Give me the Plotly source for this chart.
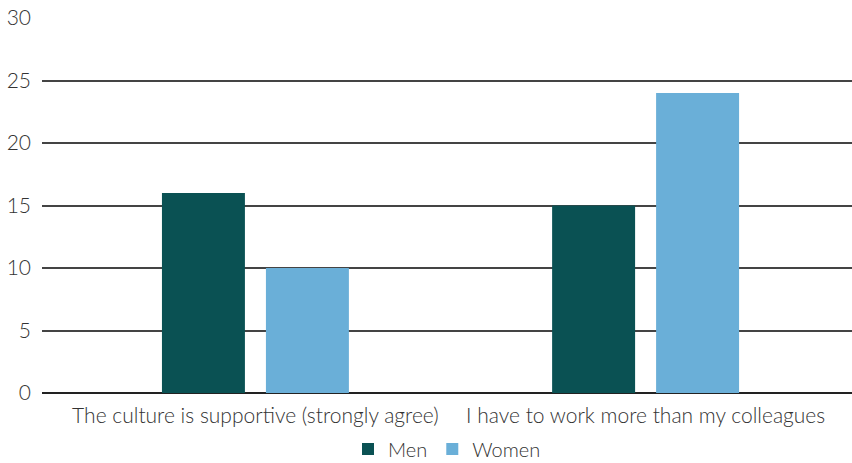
import plotly.graph_objects as go

categories = ["The culture is supportive (strongly agree)", "I have to work more than my colleagues"]
men = [16, 15]
women = [10, 24]
y_ticks = [0, 5, 10, 15, 20, 25, 30]

MEN_COLOR = "#0a5153"
WOMEN_COLOR = "#6aafd8"
TEXT_COLOR = "#333333"
FONT = "Lato, 'Open Sans', sans-serif"

fig = go.Figure()
fig.add_trace(go.Bar(name="Men", x=categories, y=men, marker=dict(color=MEN_COLOR, line=dict(width=0))))
fig.add_trace(go.Bar(name="Women", x=categories, y=women, marker=dict(color=WOMEN_COLOR, line=dict(width=0))))

fig.update_layout(
    width=852,
    height=463,
    margin=dict(l=42, r=0, t=18, b=70),
    paper_bgcolor="white",
    plot_bgcolor="white",
    barmode="group",
    bargap=0.467,
    bargroupgap=0.202,
    font=dict(family=FONT, size=20, color=TEXT_COLOR, weight=300),
    showlegend=True,
    legend=dict(
        orientation="h",
        x=0.5,
        xanchor="center",
        yref="container",
        y=0.03,
        yanchor="middle",
        font=dict(family=FONT, size=20, color=TEXT_COLOR, weight=300),
        itemwidth=30,
        traceorder="normal",
    ),
    xaxis=dict(
        range=[-0.547, 1.529],
        showgrid=False,
        showline=False,
        ticks="",
        ticklabelstandoff=8,
        tickfont=dict(family=FONT, size=21, color=TEXT_COLOR, weight=300),
        zeroline=False,
    ),
    yaxis=dict(
        range=[0, 30],
        tickvals=y_ticks,
        showgrid=True,
        gridcolor="#444444",
        gridwidth=1.5,
        zeroline=True,
        zerolinecolor="#222222",
        zerolinewidth=2,
        showline=False,
        ticks="",
        ticklabelstandoff=10,
        tickfont=dict(family=FONT, size=21, color=TEXT_COLOR, weight=300),
    ),
)

fig.write_html("out.html")
